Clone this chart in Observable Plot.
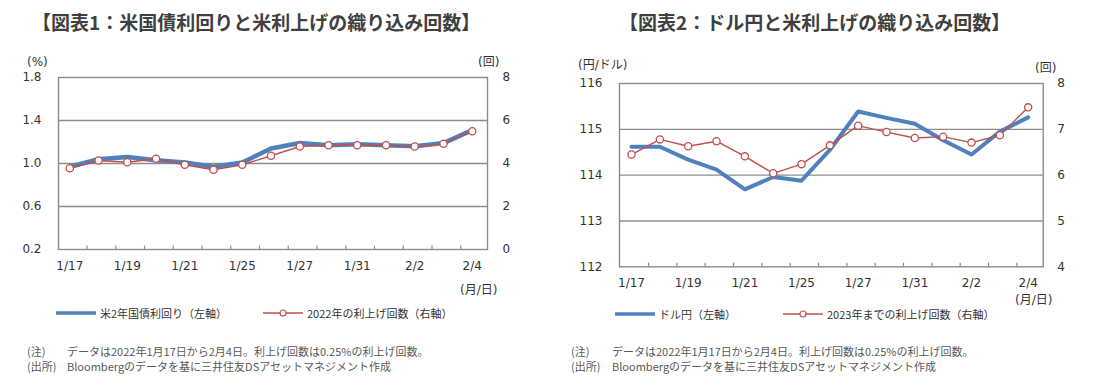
<!DOCTYPE html>
<html>
<head>
<meta charset="utf-8">
<script src="https://cdn.jsdelivr.net/npm/d3@7"></script>
<script src="https://cdn.jsdelivr.net/npm/@observablehq/plot@0.6"></script>
<style>
  html, body { margin: 0; padding: 0; background: #fff; }
  #page { position: relative; width: 1099px; height: 381px; overflow: hidden; font-family: "DejaVu Sans", "Noto Sans CJK JP", sans-serif; color: #333; }
  .abs { position: absolute; white-space: nowrap; }
  .title { font-family: "Noto Sans CJK JP", sans-serif; font-weight: bold; font-size: 19px; color: #404040; line-height: 1; }
  .unit { font-size: 12px; line-height: 1; color: #333; }
  .leg { font-family: "Noto Sans CJK JP", sans-serif; font-size: 11px; line-height: 1; color: #333; display: flex; align-items: center; }
  .note { font-family: "Noto Sans CJK JP", sans-serif; font-size: 11px; line-height: 1; color: #595959; }
</style>
</head>
<body>
<div id="page"></div>
<script>
// ---- data ----
const dates = ["1/17","1/18","1/19","1/20","1/21","1/24","1/25","1/26","1/27","1/28","1/31","2/1","2/2","2/3","2/4"];
const yield2y = [0.97,1.04,1.06,1.03,1.01,0.97,1.01,1.14,1.19,1.17,1.18,1.17,1.16,1.19,1.31];
const hikes2022 = [3.78,4.14,4.06,4.22,3.94,3.71,3.94,4.36,4.79,4.85,4.85,4.85,4.79,4.92,5.50];
const usdjpy = [114.62,114.62,114.34,114.12,113.69,113.96,113.88,114.55,115.39,115.25,115.12,114.76,114.45,114.95,115.26];
const hikes2023 = [6.45,6.78,6.63,6.74,6.41,6.04,6.24,6.65,7.08,6.94,6.81,6.84,6.71,6.87,7.48];
const leftTicks1 = [0.2,0.6,1.0,1.4,1.8];
const leftTicks2 = [112,113,114,115,116];

const BLUE = "#4f81bd", RED = "#c0504d", GRID = "#8c8c8c";
const page = document.getElementById("page");

function add(html, cls, left, top) {
  const d = document.createElement("div");
  d.className = "abs " + cls;
  d.style.left = left + "px";
  d.style.top = top + "px";
  d.innerHTML = html;
  page.appendChild(d);
  return d;
}

function makeChart(o) {
  const idx = d3.range(dates.length);
  const labelIdx = idx.filter(i => i % 2 === 0);
  const tickPos = idx.slice(0, -1).map(i => i + 0.6);
  const [y0, y1] = o.yDomain;
  const svg = Plot.plot({
    width: o.width, height: o.height,
    marginLeft: o.mL, marginRight: o.mR, marginTop: o.mT, marginBottom: o.mB,
    style: { fontFamily: "DejaVu Sans", fontSize: "12px", color: "#333", background: "transparent", overflow: "visible" },
    x: { type: "linear", domain: o.xDomain },
    y: { domain: o.yDomain },
    marks: [
      Plot.gridY(o.yTicks.slice(1, -1), { stroke: GRID, strokeOpacity: 1, strokeWidth: 1.3 }),
      Plot.frame({ stroke: GRID, strokeWidth: 1.4 }),
      Plot.ruleX(tickPos, { x: d => d, y1: y0, y2: y0 + (y1 - y0) * 0.02, stroke: GRID, strokeWidth: 1.2 }),
      Plot.axisY({ ticks: o.yTicks, anchor: "left", tickSize: 0, tickPadding: o.padL, tickFormat: o.leftFmt, label: null, fontSize: 12 }),
      Plot.axisY({ ticks: o.yTicks, anchor: "right", tickSize: 0, tickPadding: o.padR, tickFormat: o.rightFmt, label: null, fontSize: 12 }),
      Plot.axisX({ ticks: labelIdx, anchor: "bottom", tickSize: 0, tickPadding: 12, tickFormat: i => dates[i], label: null, fontSize: 12 }),
      Plot.line(idx, { x: i => i, y: i => o.leftVals[i], stroke: BLUE, strokeWidth: o.blueW, strokeLinejoin: "round" }),
      Plot.line(idx, { x: i => i, y: i => o.toLeft(o.rightVals[i]), stroke: RED, strokeWidth: 1.4 }),
      Plot.dot(idx, { x: i => i, y: i => o.toLeft(o.rightVals[i]), r: 3.6, fill: "white", stroke: RED, strokeWidth: 1.3 })
    ]
  });
  svg.style.position = "absolute";
  svg.style.left = o.left + "px";
  svg.style.top = o.top + "px";
  page.appendChild(svg);
}

// Chart 1
makeChart({
  left: 0, top: 40, width: 550, height: 260,
  mL: 58, mR: 63, mT: 37, mB: 51,
  xDomain: [-0.393, 14.53], yDomain: [0.2, 1.8], yTicks: leftTicks1,
  padL: 17, padR: 15, blueW: 4.5,
  leftFmt: d3.format(".1f"), rightFmt: d => String(Math.round((d - 0.2) / 0.2)),
  leftVals: yield2y, rightVals: hikes2022, toLeft: r => 0.2 + r * 0.2
});

// Chart 2
makeChart({
  left: 550, top: 40, width: 549, height: 270,
  mL: 69, mR: 56.3, mT: 43, mB: 43.7,
  xDomain: [-0.424, 14.53], yDomain: [112, 116], yTicks: leftTicks2,
  padL: 17, padR: 14, blueW: 4,
  leftFmt: d => String(d), rightFmt: d => String(d - 108),
  leftVals: usdjpy, rightVals: hikes2023, toLeft: r => r + 108
});

// Titles
add("【図表1：米国債利回りと米利上げの織り込み回数】", "title", 32, 12);
add("【図表2：ドル円と米利上げの織り込み回数】", "title", 619, 12);

// Units
add("(%)", "unit", 27, 56);
add("(回)", "unit", 478, 56);
add("(月/日)", "unit", 460, 284);
add("(円/ドル)", "unit", 578, 59);
add("(回)", "unit", 1035, 62);
add("(月/日)", "unit", 1015, 294);

// Legends
function legendItem(left, top, color, marker, text) {
  const m = marker ? `<circle cx="20" cy="6" r="3" fill="white" stroke="${color}" stroke-width="1.2"/>` : "";
  const w = marker ? 1.4 : 3.5;
  add(`<svg width="40" height="12" style="margin-right:4px"><line x1="0" x2="40" y1="6" y2="6" stroke="${color}" stroke-width="${w}"/>${m}</svg><span>${text}</span>`, "leg", left, top);
}
legendItem(56, 307, BLUE, false, "米2年国債利回り（左軸）");
legendItem(263, 307, RED, true, "2022年の利上げ回数（右軸）");
legendItem(615, 308, BLUE, false, "ドル円（左軸）");
legendItem(783, 308, RED, true, "2023年までの利上げ回数（右軸）");

// Notes
add("(注)", "note", 27, 346);
add("データは2022年1月17日から2月4日。利上げ回数は0.25%の利上げ回数。", "note", 67, 346);
add("(出所)", "note", 27, 361);
add("Bloombergのデータを基に三井住友DSアセットマネジメント作成", "note", 67, 361);
add("(注)", "note", 571, 346);
add("データは2022年1月17日から2月4日。利上げ回数は0.25%の利上げ回数。", "note", 612, 346);
add("(出所)", "note", 571, 361);
add("Bloombergのデータを基に三井住友DSアセットマネジメント作成", "note", 612, 361);
</script>
</body>
</html>
